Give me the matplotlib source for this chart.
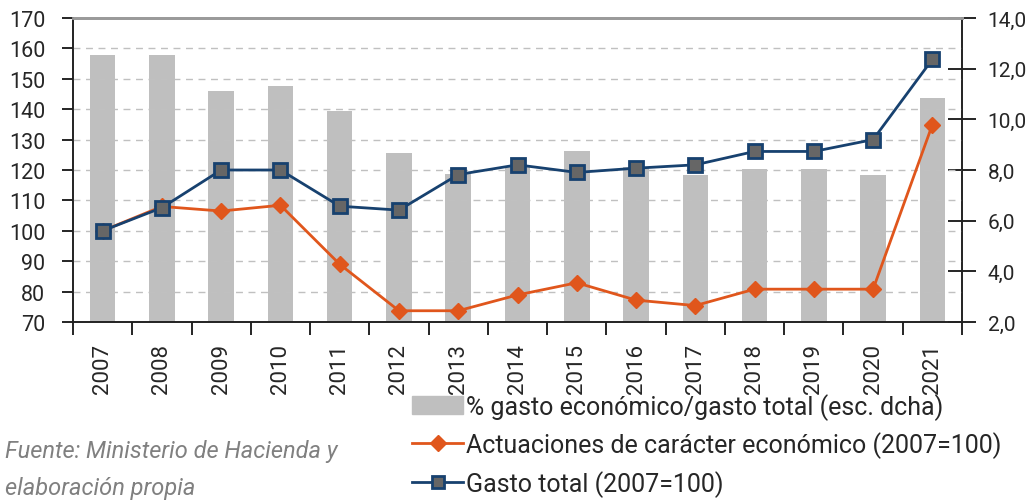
import matplotlib.pyplot as plt
import numpy as np

years = ['2007', '2008', '2009', '2010', '2011', '2012', '2013', '2014',
         '2015', '2016', '2017', '2018', '2019', '2020', '2021']
pct_economico = [12.55, 12.55, 11.13, 11.32, 10.34, 8.68, 7.84, 8.1,
                 8.74, 8.1, 7.81, 8.05, 8.05, 7.81, 10.84]
actuaciones = [100, 108, 106.5, 108.4, 89, 73.7, 73.7, 78.9,
               82.9, 77.2, 75.4, 80.8, 80.8, 80.8, 134.9]
gasto_total = [100, 107.6, 120, 120, 108.1, 106.8, 118.5, 121.7,
               119.2, 120.6, 121.7, 126.1, 126.1, 130, 156.4]

plt.rcParams['font.family'] = ['Roboto', 'DejaVu Sans']

bar_col = '#bfbfbf'
orange = '#e0561c'
navy = '#17416f'
txt = '#262626'

fig = plt.figure(figsize=(10.29, 5.02), dpi=100)
ax = fig.add_axes([73 / 1029, 1 - 323 / 502, 889 / 1029, 304 / 502])
ax2 = ax.twinx()

x = np.arange(len(years))

# bars on right axis, drawn behind the lines
ax2.bar(x, pct_economico, width=0.43, color=bar_col, zorder=1)
ax2.set_ylim(2, 14)
ax2.set_yticks(np.arange(2, 14.1, 2))
ax2.set_yticklabels([f'{v:.1f}'.replace('.', ',') for v in np.arange(2, 14.1, 2)])

ax.set_zorder(ax2.get_zorder() + 1)
ax.patch.set_visible(False)

ax.plot(x, actuaciones, color=orange, lw=2, marker='D', ms=8,
        mfc=orange, mec=orange, zorder=3)
ax.plot(x, gasto_total, color=navy, lw=2, marker='s', ms=10,
        mfc='#666666', mec=navy, mew=2, zorder=4)

ax.set_ylim(70, 170)
ax.set_yticks(np.arange(70, 171, 10))
ax.set_xlim(-0.5, len(years) - 0.5)

for v in range(80, 170, 10):
    ax.axhline(v, color='#c0c0c0', lw=1, ls=(0, (5, 4)), zorder=0)

ax.set_xticks(np.arange(-0.5, len(years), 1))
ax.set_xticklabels([])
ax.set_xticks(x, minor=True)
ax.set_xticklabels(years, minor=True, rotation=90, fontsize=16, color=txt)
ax.tick_params(axis='x', which='major', direction='out', length=9, width=1.2)
ax.tick_params(axis='x', which='minor', length=0, pad=15)
ax.tick_params(axis='y', direction='out', length=8, width=1.2, labelsize=15.5,
               labelcolor=txt, pad=12)
ax2.tick_params(axis='y', direction='inout', length=20, width=1.2, labelsize=15,
                labelcolor=txt, pad=8.5)

for a in (ax, ax2):
    for s in ('left', 'right', 'bottom'):
        a.spines[s].set_color('#222222')
        a.spines[s].set_linewidth(1.2)
    a.spines['top'].set_color('#9a9a9a')
    a.spines['top'].set_linewidth(2)

h_bar = plt.Rectangle((0, 0), 1, 1, color=bar_col)
h_act, = ax.plot([], [], color=orange, lw=2, marker='D', ms=8)
h_tot, = ax.plot([], [], color=navy, lw=2, marker='s', ms=9,
                 mfc='#666666', mec=navy, mew=2)
fig.legend([h_bar, h_act, h_tot],
           ['% gasto económico/gasto total (esc. dcha)',
            'Actuaciones de carácter económico (2007=100)',
            'Gasto total (2007=100)'],
           loc='upper left', bbox_to_anchor=(412 / 1029, 1 - 394 / 502),
           frameon=False, fontsize=18, handlelength=2.05, handletextpad=0.13,
           labelspacing=0.46, labelcolor=txt, borderpad=0, borderaxespad=0)

fig.text(5 / 1029, 1 - 452 / 502, 'Fuente: Ministerio de Hacienda y',
         fontsize=17, style='italic', color='#808080', va='center')
fig.text(5 / 1029, 1 - 489 / 502, 'elaboración propia',
         fontsize=17, style='italic', color='#808080', va='center')

fig.savefig('out.png', dpi=100)
